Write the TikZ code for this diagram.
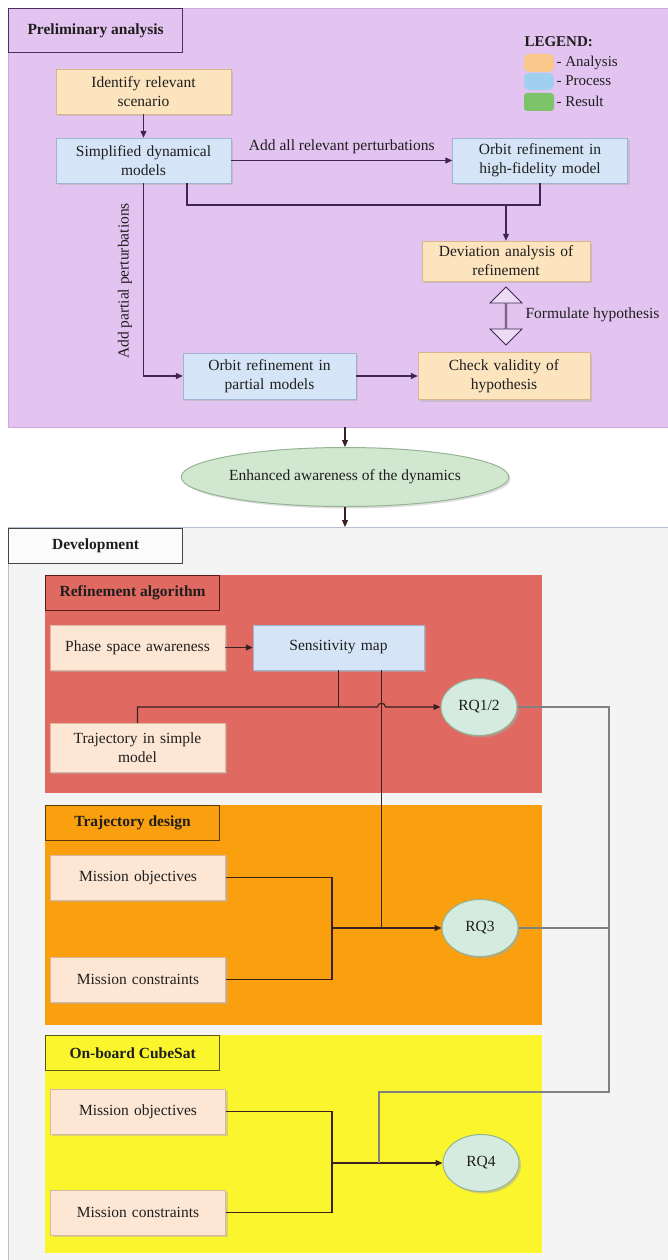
\documentclass[tikz,border=0pt]{standalone}
\usepackage{fontspec}
\setmainfont{Liberation Serif}
\usetikzlibrary{arrows.meta,shapes.geometric,shapes.arrows,shadows,calc}
\definecolor{purpF}{HTML}{E3C4F0}
\definecolor{purpB}{HTML}{CDA8DD}
\definecolor{anaF}{HTML}{FCE4BE}
\definecolor{anaB}{HTML}{D9B68A}
\definecolor{anatF}{HTML}{FDE6D4}
\definecolor{anatB}{HTML}{D9B8A0}
\definecolor{proF}{HTML}{D5E5F7}
\definecolor{proB}{HTML}{9DB5D3}
\definecolor{resF}{HTML}{D2E7D0}
\definecolor{resB}{HTML}{94B493}
\definecolor{rqF}{HTML}{D6EBE0}
\definecolor{lineP}{HTML}{3D2650}
\definecolor{lineD}{HTML}{3A2020}
\definecolor{lineG}{HTML}{808080}
\definecolor{devF}{HTML}{F4F4F4}
\definecolor{devB}{HTML}{B8C2D2}
\definecolor{redF}{HTML}{E06A62}
\definecolor{oraF}{HTML}{FAA00F}
\definecolor{yelF}{HTML}{FAF52D}
\definecolor{labP}{HTML}{4B2F5C}
\definecolor{labD}{HTML}{444444}
\definecolor{labR}{HTML}{5A1A1A}
\definecolor{labO}{HTML}{5A3A00}
\definecolor{labY}{HTML}{5A5A10}
\definecolor{legO}{HTML}{F9C78A}
\definecolor{legB}{HTML}{9FD0F0}
\definecolor{legG}{HTML}{7CC36A}
\definecolor{txtC}{HTML}{1E1E1E}
\tikzset{
  basebox/.style={rectangle, align=center, inner xsep=5pt, inner ysep=2pt, text width=165pt, minimum height=45pt, text=txtC,
    drop shadow={shadow xshift=2pt, shadow yshift=-2pt, fill=black!30}},
  anabox/.style={basebox, draw=anaB, fill=anaF},
  anatbox/.style={basebox, draw=anatB, fill=anatF},
  probox/.style={basebox, draw=proB, fill=proF},
  rq/.style={ellipse, draw=resB, line width=1pt, fill=rqF, minimum width=76pt, minimum height=57pt, inner sep=0pt, text=txtC,
    drop shadow={shadow xshift=2pt, shadow yshift=-2pt, fill=black!35}},
  lab/.style={rectangle, draw=#1, line width=1.2pt, font=\fontsize{15.5}{19}\selectfont\bfseries, minimum width=174pt, minimum height=35pt, anchor=north west, inner sep=0pt, text=txtC},
  conn/.style={line width=1.1pt},
  arr/.style={-{Triangle[length=7pt,width=6pt]}},
}
\begin{document}
\begin{tikzpicture}[x=1pt,y=-1pt, font=\fontsize{15.5}{19}\selectfont]
\useasboundingbox (0,0) rectangle (668,1260);
\fill[white] (0,0) rectangle (668,1260);
% ---------- Preliminary panel
\fill[purpF] (8,8) rectangle (668,427);
\draw[purpB, line width=0.6pt] (8,8) rectangle (668,427);
\node[lab=labP, minimum height=44pt] (plab) at (8,8) {Preliminary analysis};
% legend
\node[anchor=west, font=\fontsize{15}{18}\selectfont\bfseries, text=txtC] (leg) at (521,42) {LEGEND:};
\fill[legO, rounded corners=5pt] (524,54) rectangle (554,72);
\fill[legB, rounded corners=5pt] (524,73) rectangle (554,90);
\fill[legG, rounded corners=3pt] (524,93) rectangle (554,111);
\node[anchor=west, font=\fontsize{15}{18}\selectfont, text=txtC] (legA) at (553,63) {- Analysis};
\node[anchor=west, font=\fontsize{15}{18}\selectfont, text=txtC] (legB) at (553,81) {- Process};
\node[anchor=west, font=\fontsize{15}{18}\selectfont, text=txtC] (legC) at (553,101) {- Result};
% boxes
\node[anabox] (ident) at (143.5,91.5) {Identify relevant\\scenario};
\node[probox] (simp) at (143.5,160.5) {Simplified dynamical\\models};
\node[probox] (ohf) at (540,160.5) {Orbit refinement in\\high-fidelity model};
\node[anabox, text width=158pt, minimum height=40pt] (dev) at (506,261) {Deviation analysis of\\refinement};
\node[anabox, text width=162pt, minimum height=47pt] (chk) at (504,376) {Check validity of\\hypothesis};
\node[probox, text width=163pt, minimum height=46pt] (opm) at (269.5,376) {Orbit refinement in\\partial models};
% connectors
\draw[conn, lineP, arr] (ident) -- (simp);
\draw[conn, lineP, arr] (simp.east) -- node[above=3pt, text=txtC] (lbl1) {Add all relevant perturbations} (ohf.west);
\coordinate (j1) at (506,205);
\draw[conn, lineP] ([xshift=43.5pt]simp.south) |- (j1);
\draw[conn, lineP] (ohf.south) |- (j1);
\draw[conn, lineP, arr] (j1) -- (dev.north);
\draw[conn, lineP, arr] (simp.south) |- (opm.west);
\node[rotate=90, text=txtC] (lbl2) at (125,281) {Add partial perturbations};
\draw[conn, lineP, arr] (opm) -- (chk);
\node[double arrow, draw=lineP, fill=purpF!60!white, line width=0.8pt, rotate=90, minimum height=58pt, minimum width=32pt,
  double arrow head extend=8pt, inner sep=0pt] (hyp) at (506,316) {};
\node[anchor=west, text=txtC] (hyplab) at (522,315) {Formulate hypothesis};
% ---------- middle
\coordinate (pbot) at (345,427);
\node[ellipse, draw=resB, line width=1pt, fill=resF, minimum width=316pt, minimum height=59pt, inner sep=0pt, text=txtC,
  drop shadow={shadow xshift=2pt, shadow yshift=-2pt, fill=black!25}] (aware) at (345,477) {Enhanced awareness of the dynamics};
\draw[conn, lineD, arr] (pbot) -- (aware.north);
% ---------- Development panel
\fill[devF] (8,527) rectangle (668,1260);
\draw[devB, line width=0.8pt] (8,1260) -- (8,527) -- (668,527);
\coordinate (dtop) at (345,527);
\draw[conn, lineD, arr] (aware.south) -- (dtop);
\node[lab=labD, fill=white!60!devF] (dlab) at (8,528) {Development};
% Refinement algorithm
\fill[redF] (45,575) rectangle (542,793);
\node[lab=labR] (rlab) at (45,575) {Refinement algorithm};
\node[anatbox] (phase) at (137.5,647.5) {Phase space awareness};
\node[probox, text width=161pt] (sens) at (338.5,647.5) {Sensitivity map};
\node[anatbox, minimum height=49pt] (traj) at (137.5,747.5) {Trajectory in simple\\model};
\node[rq] (rq12) at (479,707) {RQ1/2};
% Trajectory design
\fill[oraF] (45,805) rectangle (542,1025);
\node[lab=labO] (olab) at (45,805) {Trajectory design};
\node[anatbox] (mo1) at (138,877.5) {Mission objectives};
\node[anatbox] (mc1) at (138,979.5) {Mission constraints};
\node[rq] (rq3) at (480,928) {RQ3};
% On-board CubeSat
\fill[yelF] (45,1035) rectangle (542,1253);
\node[lab=labY] (ylab) at (45,1035) {On-board CubeSat};
\node[anatbox] (mo2) at (138,1111.5) {Mission objectives};
\node[anatbox] (mc2) at (138,1212.5) {Mission constraints};
\node[rq] (rq4) at (481,1163) {RQ4};
% connectors development
\draw[conn, lineD, arr] (phase) -- (sens);
\draw[conn, lineD] (sens.south) -- (sens.south |- rq12.west);
\coordinate (hopL) at (377.5,707);
\coordinate (hopR) at (385.5,707);
\draw[conn, lineD, arr] (traj.north) |- (hopL) .. controls +(0,-5) and +(0,-5) .. (hopR) -- (rq12.west);
\coordinate (m1) at (332,928);
\draw[conn, lineD] ([xshift=43pt]sens.south) -- ([xshift=43pt]sens.south |- m1);
\draw[conn, lineD] (mo1.east) -| (m1);
\draw[conn, lineD] (mc1.east) -| (m1);
\draw[conn, lineD, arr] (m1) -- (rq3.west);
\coordinate (m2) at (332,1163);
\draw[conn, lineD] (mo2.east) -| (m2);
\draw[conn, lineD] (mc2.east) -| (m2);
\draw[conn, lineD, arr] (m2) -- (rq4.west);
\coordinate (c1) at (609,1092);
\coordinate (c2) at (379,1163);
\draw[conn, lineG] (rq12.east) -| (c1) -| (c2);
\draw[conn, lineG] (rq3.east) -- (rq3.east -| c1);
\end{tikzpicture}
\end{document}
